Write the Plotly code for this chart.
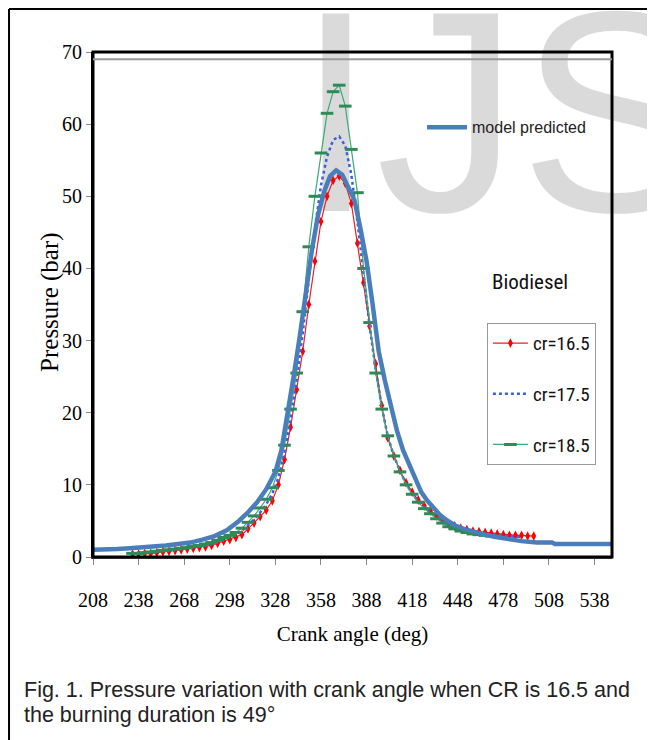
import plotly.graph_objects as go

# ---------------- data ----------------
crank_model = [208, 216, 224, 232, 240, 248, 256, 264, 272, 280, 288, 296, 300, 304, 310, 316, 322,
               328, 332, 336, 340, 344, 348, 352, 356, 360, 364, 368, 372, 376, 380, 384, 388,
               392, 396, 400, 404, 408, 412, 416, 420, 424, 428, 432, 436, 440, 446, 452, 458,
               464, 472, 480, 490, 500, 510, 512, 520, 530, 540, 549]
p_model = [1.0, 1.0, 1.1, 1.2, 1.3, 1.5, 1.6, 1.8, 2.0, 2.4, 2.9, 3.7, 4.3, 5.0, 6.2, 7.6, 9.4,
           11.8, 14.8, 19.5, 25.0, 30.5, 36.5, 42.5, 47.3, 50.6, 52.8, 53.6, 53.0, 51.2, 49.5, 45.5, 41.0,
           35.0, 28.5, 24.5, 21.0, 17.5, 14.8, 12.8, 10.8, 9.0, 7.8, 6.8, 5.9, 5.2, 4.4, 3.9, 3.5,
           3.2, 2.8, 2.5, 2.2, 2.0, 2.0, 1.8, 1.8, 1.8, 1.8, 1.8]

crank_cr165 = list(range(234, 499, 4))
p_cr165 = [0.4, 0.4, 0.5, 0.5, 0.6, 0.7, 0.8, 0.9, 1.0, 1.1, 1.2, 1.3, 1.4, 1.6, 1.9, 2.2,
           2.4, 2.7, 3.1, 3.9, 4.7, 5.6, 6.5, 7.8, 10.0, 13.5,
           18.0, 23.2, 28.5, 35.0, 41.0, 46.5, 50.0, 52.2, 52.8, 51.8,
           49.0, 43.5, 38.0, 32.0, 26.8, 21.0, 16.5, 14.0, 12.0, 10.3, 9.0, 7.9, 7.1, 6.4,
           5.7, 5.1, 4.6, 4.3, 4.0, 3.8, 3.6, 3.5, 3.4, 3.3, 3.2, 3.1, 3.0, 3.0, 3.0, 2.9, 2.9]

crank_cr175 = list(range(234, 491, 4))
p_cr175 = [0.4, 0.5, 0.5, 0.6, 0.7, 0.8, 0.9, 1.0, 1.1, 1.2, 1.3, 1.5, 1.6, 1.8, 2.1, 2.5,
           2.8, 3.1, 3.6, 4.4, 5.2, 6.2, 7.3, 8.8, 11.0, 14.5,
           19.0, 24.5, 31.0, 38.5, 45.5, 51.5, 55.5, 57.8, 58.3, 57.0,
           53.0, 46.5, 39.0, 32.0, 26.0, 20.8, 16.7, 14.0, 11.9, 10.2, 8.8, 7.7, 6.9, 6.2,
           5.5, 4.9, 4.4, 4.1, 3.8, 3.6, 3.4, 3.3, 3.2, 3.1, 3.0, 2.9, 2.9, 2.8, 2.8]

crank_cr185 = list(range(234, 471, 4))
p_cr185 = [0.5, 0.5, 0.6, 0.7, 0.8, 0.9, 1.0, 1.1, 1.2, 1.3, 1.5, 1.6, 1.8, 2.0, 2.3, 2.7,
           3.0, 3.4, 4.0, 4.8, 5.7, 6.8, 8.0, 9.6, 12.0, 15.5,
           20.5, 25.5, 34.0, 43.0, 50.0, 56.0, 61.5, 64.5, 65.4, 62.5,
           56.5, 50.5, 40.0, 32.5, 25.5, 20.5, 16.8, 14.0, 11.8, 10.0, 8.7, 7.6, 6.7, 6.0,
           5.3, 4.7, 4.2, 3.9, 3.6, 3.4, 3.2, 3.1, 3.0, 2.9]

x_ticks = [208, 238, 268, 298, 328, 358, 388, 418, 448, 478, 508, 538]
y_ticks = [0, 10, 20, 30, 40, 50, 60, 70]

assert len(crank_model) == len(p_model)
assert len(crank_cr165) == len(p_cr165)
assert len(crank_cr175) == len(p_cr175)
assert len(crank_cr185) == len(p_cr185)

SERIF = "Liberation Serif, Times New Roman, serif"
NARROW = "Roboto Condensed, DejaVu Sans Condensed, Liberation Sans Narrow, Liberation Sans, sans-serif"
SANS = "Liberation Sans, Arial, sans-serif"

fig = go.Figure()

# watermark (drawn first, under the curves)
fig.add_trace(go.Scatter(
    x=[478], y=[57.9], mode="text", text=["IJS"],
    textfont=dict(family=SANS, size=287, color="#dadada"),
    cliponaxis=False, showlegend=False, hoverinfo="skip"))

fig.add_trace(go.Scatter(
    x=crank_cr165, y=p_cr165, mode="lines+markers", name="cr=16.5",
    line=dict(color="#e8202a", width=1.2),
    marker=dict(symbol="diamond-tall", size=7, color="#ff0000"),
    legend="legend2", legendgroup="g1"))

fig.add_trace(go.Scatter(
    x=crank_cr175, y=p_cr175, mode="lines", name="cr=17.5",
    line=dict(color="#3a5fd9", width=2.5, dash="dot"),
    legend="legend2", legendgroup="g2"))

fig.add_trace(go.Scatter(
    x=crank_cr185, y=p_cr185, mode="lines+markers", name="cr=18.5",
    line=dict(color="#3aa878", width=1.2),
    marker=dict(symbol="line-ew", size=9, line=dict(width=3, color="#2e8b57")),
    legend="legend2", legendgroup="g3"))

fig.add_trace(go.Scatter(
    x=crank_model, y=p_model, mode="lines", name="model predicted",
    line=dict(color="#4a7ebb", width=4.5),
    legend="legend"))

fig.update_layout(
    width=655, height=740,
    margin=dict(l=85, r=51, t=44, b=191),
    paper_bgcolor="white", plot_bgcolor="white",
    xaxis=dict(range=[208, 549.5], tickvals=x_ticks, ticks="outside", ticklen=6,
               tickcolor="#888", showline=True, linecolor="#555", linewidth=2,
               showgrid=False, zeroline=False,
               tickfont=dict(family=SERIF, size=20, color="black"),
               ticklabelstandoff=18,
               title=dict(text="Crank angle (deg)", font=dict(family=SERIF, size=21, color="black"),
                          standoff=16)),
    yaxis=dict(range=[0, 70], tickvals=y_ticks, ticks="outside", ticklen=5,
               tickcolor="#888", showline=True, linecolor="black", linewidth=2,
               showgrid=False, zeroline=False,
               tickfont=dict(family=SERIF, size=20, color="black")),
    legend=dict(x=0.634, y=0.851, xanchor="left", yanchor="middle",
                bgcolor="rgba(0,0,0,0)", borderwidth=0, itemwidth=40,
                font=dict(family=SANS, size=16, color="#222")),
    legend2=dict(x=0.759, y=0.463, xanchor="left", yanchor="top",
                 bgcolor="white", bordercolor="#999", borderwidth=1, itemwidth=35,
                 tracegroupgap=23, traceorder="grouped",
                 font=dict(family=NARROW, size=19, color="#111")),
    showlegend=True,
    shapes=[
        dict(type="rect", xref="paper", yref="paper", x0=0, x1=1, y0=0, y1=1,
             line=dict(color="black", width=3)),
        dict(type="line", xref="paper", yref="y", x0=0, x1=1, y0=69, y1=69,
             line=dict(color="#999", width=2)),
        # figure frame (top and left)
        dict(type="line", xref="paper", yref="paper", x0=-0.1618, x1=1.1, y0=1.0851, y1=1.0851,
             line=dict(color="black", width=2)),
        dict(type="line", xref="paper", yref="paper", x0=-0.1618, x1=-0.1618, y0=1.0851, y1=-0.38,
             line=dict(color="black", width=2)),
    ],
    annotations=[
        dict(text="Pressure (bar)", xref="paper", yref="paper", x=-0.0829, y=0.505,
             xanchor="center", yanchor="middle", textangle=-90, showarrow=False,
             font=dict(family=SERIF, size=25, color="black")),
        dict(text="Biodiesel", xref="paper", yref="paper", x=0.842, y=0.545,
             xanchor="center", yanchor="middle",
             showarrow=False, font=dict(family=NARROW, size=21, color="#111")),
        dict(text="Fig. 1. Pressure variation with crank angle when CR is 16.5 and",
             xref="paper", yref="paper", x=-0.137, y=-0.263, xanchor="left", yanchor="middle",
             showarrow=False, font=dict(family=SANS, size=21.5, color="#222")),
        dict(text="the burning duration is 49°",
             xref="paper", yref="paper", x=-0.137, y=-0.313, xanchor="left", yanchor="middle",
             showarrow=False, font=dict(family=SANS, size=21.5, color="#222")),
    ],
)

fig.write_html("out.html")
